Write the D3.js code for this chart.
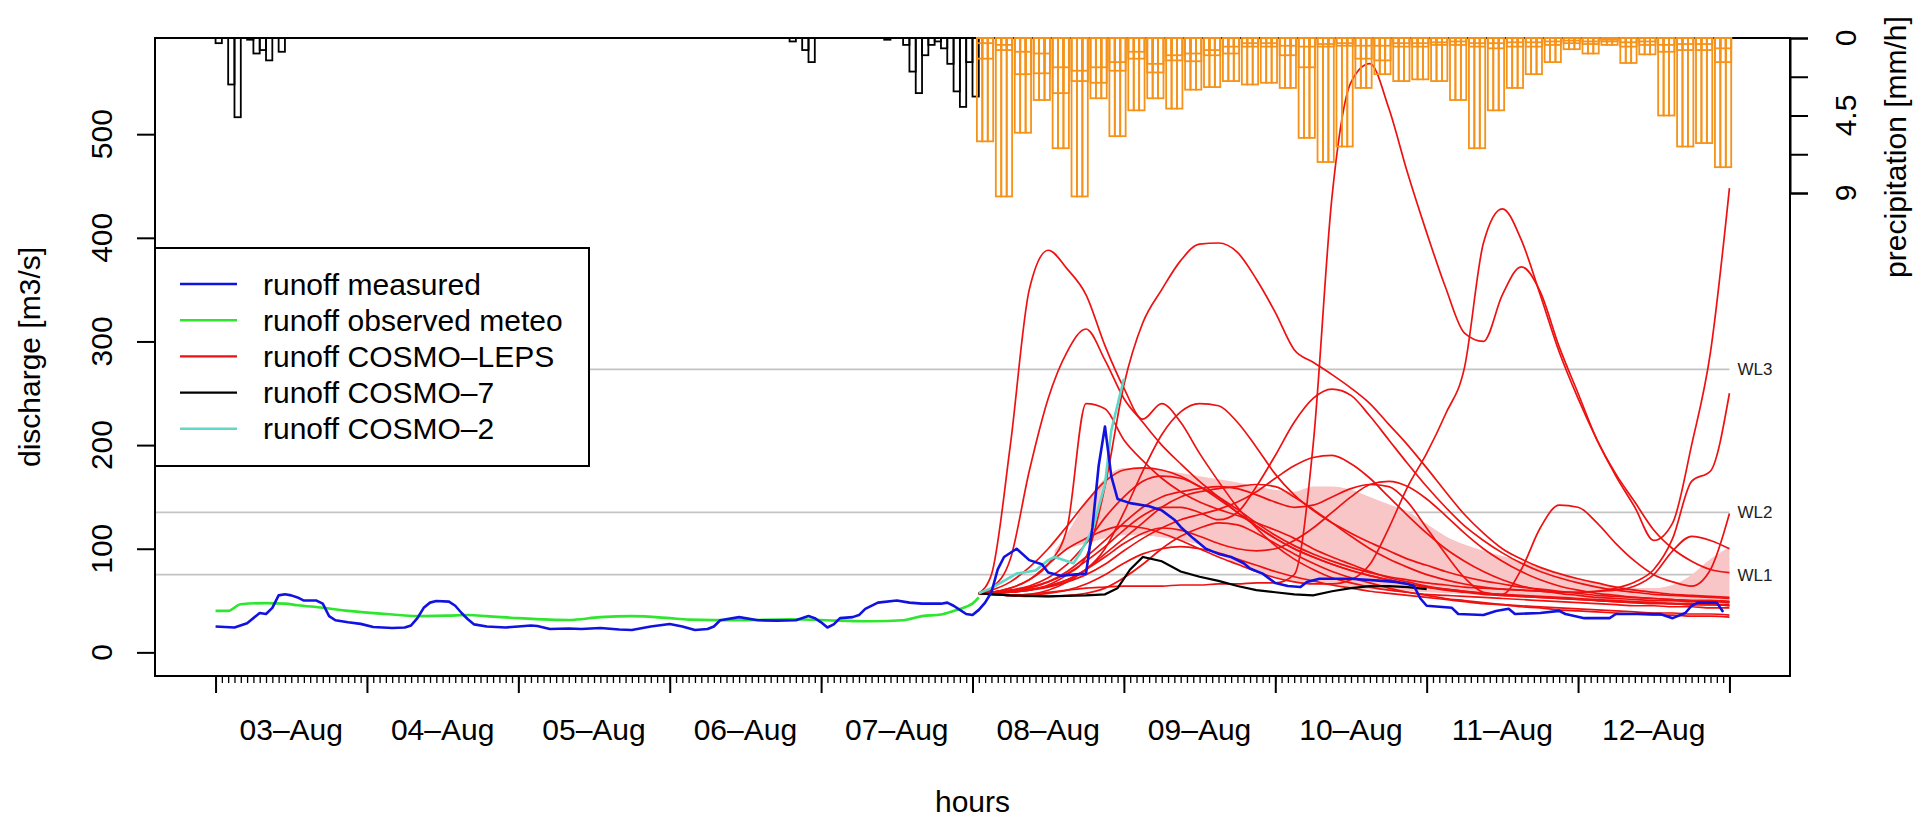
<!DOCTYPE html>
<html>
<head>
<meta charset="utf-8">
<script src="https://cdn.jsdelivr.net/npm/d3@7"></script>
<style>
  body { margin: 0; background: #fff; }
  svg { display: block; font-family: "Liberation Sans", Arial, sans-serif; }
</style>
</head>
<body>
<div id="chart"></div>
<script>
// ---- data (hours counted from 03-Aug 00:00) ----
var dayLabels = ["03\u2013Aug", "04\u2013Aug", "05\u2013Aug", "06\u2013Aug", "07\u2013Aug",
  "08\u2013Aug", "09\u2013Aug", "10\u2013Aug", "11\u2013Aug", "12\u2013Aug"];
var yTicks = [0, 100, 200, 300, 400, 500];
var precipTicks = [0, 2.25, 4.5, 6.75, 9];
var precipLabels = ["0", "", "4.5", "", "9"];

var warnLevels = [75, 135, 273];
var warnNames = ["WL1", "WL2", "WL3"];

// observed precipitation (black bars)
var obsPrecipHours = [0, 2, 3, 5, 6, 7, 8, 10, 91, 93, 94, 106, 109, 110, 111, 112, 113, 114, 115, 116, 117, 118, 119, 120];
var obsPrecipValues = [0.3, 2.7, 4.6, 0.1, 0.9, 0.7, 1.3, 0.8, 0.2, 0.7, 1.4, 0.1, 0.4, 1.95, 3.2, 1.0, 0.4, 0.2, 0.6, 1.5, 3.1, 4.0, 1.4, 3.4];

// forecast precipitation, 3-hour blocks from 08-Aug (orange bars, three member levels)
var precipMax = [6.0, 9.2, 5.5, 3.6, 6.4, 9.2, 3.5, 5.7, 4.2, 3.5, 4.1, 3.0, 2.85, 2.5, 2.7, 2.6, 2.9, 5.8, 7.2, 6.3,
  2.9, 2.1, 2.5, 2.4, 2.5, 3.6, 6.4, 4.2, 2.9, 2.1, 1.4, 0.65, 0.9, 0.4, 1.45, 0.95, 4.5, 6.3, 6.1, 7.5];
var precipMid = [1.2, 0.7, 2.1, 2.05, 3.2, 2.5, 2.6, 1.9, 1.2, 2.0, 1.3, 1.35, 1.0, 0.9, 0.5, 0.5, 1.0, 1.7, 0.5, 0.45,
  1.2, 1.3, 0.5, 0.5, 0.4, 0.4, 0.5, 0.6, 0.5, 0.5, 0.4, 0.3, 0.35, 0.2, 0.5, 0.4, 0.8, 0.7, 0.7, 1.4];
var precipLow = [0.3, 0.4, 0.8, 0.9, 1.7, 1.9, 1.7, 1.4, 0.8, 1.5, 1.0, 0.9, 0.7, 0.5, 0.3, 0.3, 0.45, 0.5, 0.35, 0.3,
  0.45, 0.45, 0.3, 0.3, 0.25, 0.2, 0.3, 0.3, 0.25, 0.25, 0.2, 0.15, 0.2, 0.1, 0.25, 0.2, 0.4, 0.35, 0.35, 0.6];

// runoff measured
var measuredHours = [0, 3, 5, 7, 8, 9, 10, 11, 12, 13, 14, 16, 17, 18, 19, 21, 23, 25, 28, 30, 31, 32, 33, 34, 35, 37, 38, 39, 40, 41,
  43, 46, 48, 50, 51, 53, 56, 58, 61, 64, 66, 69, 72, 74, 76, 78, 79, 80, 83, 86, 89, 92, 94, 95, 96, 97, 98, 99, 101, 102,
  103, 105, 108, 110, 112, 115, 116, 117, 118, 119, 120, 121, 122, 123, 124, 125, 127, 129, 131, 132, 134, 136, 138, 139, 140, 141, 142, 143,
  145, 148, 150, 152, 153, 155, 157, 159, 161, 163, 164, 166, 168, 170, 172, 173, 175, 180, 185, 187, 189, 190, 191, 192,
  196, 197, 201, 203, 205, 206, 210, 213, 214, 217, 221, 222, 229, 231, 233, 234, 235, 238, 239];
var measuredValues = [25, 24, 28, 38, 37, 43, 55, 56, 55, 53, 50, 50, 47, 35, 31, 29, 27.5, 24.5, 23.5, 24, 26, 33, 43, 48, 49.5, 49, 45, 38, 32, 27,
  25, 24, 25, 26, 25.5, 22.5, 23, 22.5, 23.5, 22, 21.6, 25, 27.4, 25, 21.6, 22.5, 25, 31, 34, 31, 30.6, 31, 35, 33, 29, 24, 27, 33, 34, 36,
  42, 48, 50, 48, 47, 47, 48, 45, 41, 37, 36, 41, 48, 58, 80, 92, 100, 89, 85, 77, 74, 75, 76, 120, 180, 218, 170, 148,
  144, 141, 137, 128, 121, 110, 100, 95, 92, 86, 81, 76, 67, 64, 63, 68, 71, 71, 69, 68, 66, 64, 52, 45,
  43, 37, 36, 40, 42, 37, 38, 40, 37, 33, 33, 37, 37, 33, 38, 45, 48, 48, 39];

// runoff observed meteo
var meteoHours = [0, 2, 4, 8, 11, 13, 17, 21, 27, 32, 37, 40, 43, 48, 53, 56, 61, 66, 72, 75, 83, 91, 99, 104, 109, 112, 115, 117, 119, 120, 121];
var meteoValues = [40, 40, 46.5, 47.5, 47, 45.5, 43, 40, 37, 35, 35.5, 36, 35, 33, 31.6, 31.3, 34, 35, 33, 31.6, 31, 32, 30.6, 30, 31, 35, 36.5, 40, 44, 47, 53];

// forecast hours for COSMO-LEPS members
var forecastHours = [121, 123, 126, 129, 132, 135, 138, 141, 144, 147, 150, 153, 156, 159, 162, 165, 168, 171, 174, 177,
  180, 183, 186, 189, 192, 195, 198, 201, 204, 207, 210, 213, 216, 219, 222, 225, 228, 231, 234, 237, 240];

var leps01 = [57, 75, 200, 350, 388, 370, 345, 296, 255, 225, 240, 222, 192, 165, 140, 120, 103, 90, 80, 72,
  67, 63, 60, 58, 56, 55, 54, 53, 52, 51, 50, 49, 48, 47, 46, 45, 45, 44, 44, 43, 43];
var leps02 = [57, 62, 90, 175, 245, 290, 312, 282, 245, 222, 200, 182, 165, 150, 135, 122, 110, 100, 92, 85,
  79, 74, 70, 66, 63, 61, 59, 57, 56, 55, 54, 53, 52, 51, 50, 49, 48, 47, 46, 46, 45];
var leps03 = [57, 57, 58, 60, 65, 75, 92, 160, 258, 318, 350, 378, 394, 395, 386, 360, 328, 292, 280, 268,
  255, 240, 220, 200, 178, 155, 133, 115, 100, 90, 82, 76, 71, 67, 63, 60, 58, 56, 55, 54, 53];
var leps04 = [57, 56, 55, 56, 58, 60, 62, 63, 64, 64, 64, 65, 65, 66, 66, 67, 67, 75, 200, 440,
  550, 568, 525, 462, 405, 352, 308, 300, 345, 372, 348, 295, 250, 205, 172, 145, 118, 100, 88, 80, 77];
var leps05 = [57, 58, 62, 70, 85, 100, 110, 118, 122, 120, 115, 108, 100, 92, 85, 78, 72, 68, 66, 66,
  70, 85, 120, 160, 192, 230, 275, 395, 428, 398, 345, 290, 245, 205, 170, 140, 108, 125, 200, 290, 448];
var leps06 = [57, 58, 60, 63, 68, 76, 88, 102, 118, 132, 140, 140, 135, 128, 135, 160, 190, 222, 245, 254,
  248, 228, 205, 182, 160, 140, 122, 108, 96, 86, 78, 72, 67, 63, 60, 58, 56, 55, 54, 53, 52];
var leps07 = [57, 58, 59, 61, 64, 70, 80, 100, 135, 175, 210, 232, 240, 238, 222, 198, 172, 152, 137, 125,
  115, 106, 98, 90, 84, 78, 73, 69, 66, 63, 61, 59, 57, 55, 54, 53, 52, 51, 50, 50, 49];
var leps08 = [57, 60, 68, 82, 100, 122, 145, 165, 176, 178, 176, 170, 160, 148, 135, 122, 110, 100, 92, 85,
  79, 74, 70, 66, 63, 60, 58, 56, 55, 54, 53, 52, 51, 50, 49, 48, 47, 47, 46, 46, 45];
var leps09 = [57, 58, 62, 70, 85, 120, 240, 235, 205, 185, 168, 155, 145, 138, 132, 125, 118, 110, 100, 92,
  85, 78, 72, 68, 64, 61, 59, 57, 55, 54, 53, 52, 51, 50, 49, 48, 48, 47, 47, 46, 46];
var leps10 = [57, 57, 58, 60, 63, 68, 75, 85, 98, 110, 120, 128, 133, 138, 145, 155, 168, 180, 188, 190,
  182, 168, 150, 132, 115, 100, 88, 78, 70, 64, 60, 57, 55, 53, 52, 51, 50, 50, 49, 49, 48];
var leps11 = [57, 57, 59, 62, 68, 78, 92, 108, 125, 140, 150, 155, 158, 160, 158, 152, 145, 140, 142, 150,
  158, 162, 160, 145, 120, 95, 72, 58, 56, 80, 120, 142, 140, 125, 105, 88, 75, 68, 64, 80, 134];
var leps12 = [57, 58, 60, 64, 72, 85, 105, 130, 150, 165, 170, 168, 160, 150, 138, 125, 113, 103, 95, 88,
  82, 77, 73, 70, 67, 65, 63, 62, 61, 60, 59, 58, 58, 59, 62, 68, 80, 110, 165, 175, 250];
var leps13 = [57, 56, 55, 56, 60, 68, 80, 95, 110, 125, 140, 150, 155, 158, 160, 162, 160, 150, 138, 125,
  112, 100, 90, 82, 75, 70, 66, 63, 61, 60, 59, 58, 58, 59, 60, 64, 75, 98, 112, 108, 100];
var leps14 = [57, 57, 58, 60, 64, 70, 80, 92, 105, 115, 120, 118, 112, 105, 100, 98, 100, 108, 120, 135,
  150, 162, 165, 160, 148, 132, 115, 100, 88, 78, 70, 64, 60, 57, 55, 53, 52, 51, 50, 50, 49];
var leps15 = [57, 56, 55, 55, 57, 60, 66, 75, 86, 95, 100, 102, 100, 96, 90, 84, 78, 73, 69, 65,
  62, 59, 57, 55, 53, 51, 49, 47, 46, 45, 44, 43, 42, 41, 40, 39, 38, 38, 37, 37, 36];
var leps16 = [57, 56, 55, 54, 54, 55, 57, 62, 72, 85, 100, 112, 120, 125, 123, 115, 105, 95, 86, 78,
  72, 67, 62, 58, 55, 52, 50, 48, 46, 44, 43, 41, 40, 39, 38, 37, 36, 36, 35, 35, 34];
var lepsRuns = [leps01, leps02, leps03, leps04, leps05, leps06, leps07, leps08,
  leps09, leps10, leps11, leps12, leps13, leps14, leps15, leps16];

// shaded ensemble range
var bandHours = [133, 135, 138, 141, 144, 147, 150, 153, 156, 159, 162, 165, 168, 171, 174, 177, 180, 183, 186,
  189, 192, 195, 198, 201, 204, 207, 210, 213, 216, 219, 222, 225, 228, 231, 234, 237, 240];
var bandLow = [95, 100, 105, 110, 113, 113, 111, 108, 104, 95, 85, 77, 72, 68, 66, 64, 62, 61, 60,
  59, 58, 57, 56, 55, 54, 53, 52, 51, 50, 49, 48, 47, 47, 46, 46, 46, 46];
var bandHigh = [98, 115, 145, 168, 178, 178, 176, 173, 170, 167, 164, 160, 157, 155, 160, 160, 157, 150, 143,
  136, 124, 112, 104, 98, 93, 88, 82, 76, 71, 67, 64, 62, 62, 65, 75, 90, 102];

// COSMO-7 and COSMO-2
var cosmo7Hours = [121, 126, 132, 138, 141, 143, 145, 147, 150, 153, 156, 159, 162, 165, 168, 171, 174, 177, 180, 183, 186, 189, 192];
var cosmo7Values = [57, 55, 54, 55, 56, 62, 80, 92, 88, 78, 73, 69, 64, 60, 58, 56, 55, 59, 62, 64, 64, 63, 61];
var cosmo2Hours = [121, 123, 127, 130, 132, 133, 136, 137, 139, 141, 142, 144];
var cosmo2Values = [57, 62, 76, 79, 89, 92, 86, 95, 118, 162, 214, 264];

var legendNames = ["runoff measured", "runoff observed meteo", "runoff COSMO\u2013LEPS", "runoff COSMO\u20137", "runoff COSMO\u20132"];
var legendColors = ["#1212e0", "#2ee62e", "#ee1111", "#000000", "#5fd8c8"];

// ---- layout ----
var svgWidth = 1926;
var svgHeight = 818;
var box = { left: 155, right: 1790, top: 38, bottom: 676 };
var precipStartHour = 120.7;

var svg = d3.select("#chart")
  .append("svg")
  .attr("width", svgWidth)
  .attr("height", svgHeight);

var xScale = d3.scaleLinear().domain([-9.6, 249.6]).range([box.left, box.right]);
var yScale = d3.scaleLinear().domain([-22.8, 592.8]).range([box.bottom, box.top]);
var pScale = d3.scaleLinear().domain([0, 9]).range([box.top, 193]);

function zip(xs, ys) {
  return xs.map((h, i) => [h, ys[i]]);
}

// warning levels
var wl = svg.append("g");
warnLevels.forEach(function(v, i) {
  wl.append("line")
    .attr("x1", box.left).attr("x2", xScale(240))
    .attr("y1", yScale(v)).attr("y2", yScale(v))
    .attr("stroke", "#c4c4c4").attr("stroke-width", 1.8);
  wl.append("text")
    .attr("x", xScale(240) + 8)
    .attr("y", yScale(v))
    .attr("dy", "0.35em")
    .style("font-size", "17px")
    .attr("fill", "#222")
    .text(warnNames[i]);
});

// ensemble band
var area = d3.area()
  .x(d => xScale(d[0]))
  .y0(d => yScale(d[1]))
  .y1(d => yScale(d[2]))
  .curve(d3.curveMonotoneX);
svg.append("path")
  .datum(bandHours.map((h, i) => [h, bandLow[i], bandHigh[i]]))
  .attr("d", area)
  .attr("fill", "#f8c6c6");

var smoothLine = d3.line()
  .x(d => xScale(d[0]))
  .y(d => yScale(d[1]))
  .curve(d3.curveMonotoneX);
var plainLine = d3.line()
  .x(d => xScale(d[0]))
  .y(d => yScale(d[1]));

// COSMO-LEPS members
svg.append("g").selectAll("path")
  .data(lepsRuns)
  .enter()
  .append("path")
  .attr("d", d => smoothLine(zip(forecastHours, d)))
  .attr("fill", "none")
  .attr("stroke", legendColors[2])
  .attr("stroke-width", 1.7);

// COSMO-7
svg.append("path")
  .attr("d", plainLine(zip(cosmo7Hours, cosmo7Values)))
  .attr("fill", "none").attr("stroke", legendColors[3]).attr("stroke-width", 2.2);

// observed meteo
svg.append("path")
  .attr("d", smoothLine(zip(meteoHours, meteoValues)))
  .attr("fill", "none").attr("stroke", legendColors[1]).attr("stroke-width", 2.6);

// COSMO-2
svg.append("path")
  .attr("d", plainLine(zip(cosmo2Hours, cosmo2Values)))
  .attr("fill", "none").attr("stroke", legendColors[4]).attr("stroke-width", 2.6);

// measured
svg.append("path")
  .attr("d", plainLine(zip(measuredHours, measuredValues)))
  .attr("fill", "none").attr("stroke", legendColors[0]).attr("stroke-width", 2.6)
  .attr("stroke-linejoin", "round");

// plot box
svg.append("rect")
  .attr("x", box.left).attr("y", box.top)
  .attr("width", box.right - box.left).attr("height", box.bottom - box.top)
  .attr("fill", "none").attr("stroke", "#000").attr("stroke-width", 2);

// observed precipitation bars
svg.append("g").selectAll("rect")
  .data(zip(obsPrecipHours, obsPrecipValues))
  .enter()
  .append("rect")
  .attr("x", d => xScale(d[0]))
  .attr("y", pScale(0))
  .attr("width", xScale(1) - xScale(0))
  .attr("height", d => pScale(d[1]) - pScale(0))
  .attr("fill", "none")
  .attr("stroke", "#000")
  .attr("stroke-width", 1.8);

// forecast precipitation bars: three hourly bars per block, one outline per level
var barW = 0.86;
var precipBars = [];
[precipMax, precipMid, precipLow].forEach(function(level) {
  level.forEach(function(v, k) {
    for (var j = 0; j < 3; j++) {
      precipBars.push({ h: precipStartHour + 3 * k + j * barW, v: v });
    }
  });
});
svg.append("g").selectAll("rect")
  .data(precipBars)
  .enter()
  .append("rect")
  .attr("x", d => xScale(d.h))
  .attr("y", pScale(0))
  .attr("width", xScale(barW) - xScale(0))
  .attr("height", d => pScale(d.v) - pScale(0))
  .attr("fill", "none")
  .attr("stroke", "#f5921a")
  .attr("stroke-width", 1.8);

// ---- axes ----
var leftAxis = d3.axisLeft(yScale).tickValues(yTicks).tickSize(18).tickFormat("");
var gLeft = svg.append("g").attr("transform", `translate(${box.left},0)`).call(leftAxis);
gLeft.select(".domain").remove();
gLeft.selectAll("line").attr("stroke-width", 2);
yTicks.forEach(function(t) {
  svg.append("text")
    .attr("transform", `translate(112,${yScale(t)}) rotate(-90)`)
    .attr("text-anchor", "middle")
    .style("font-size", "30px")
    .text(t);
});

var rightAxis = d3.axisRight(pScale).tickValues(precipTicks).tickSize(18).tickFormat("");
var gRight = svg.append("g").attr("transform", `translate(${box.right},0)`).call(rightAxis);
gRight.select(".domain").attr("stroke-width", 2);
gRight.selectAll("line").attr("stroke-width", 2);
precipTicks.forEach(function(t, i) {
  svg.append("text")
    .attr("transform", `translate(1856,${pScale(t)}) rotate(-90)`)
    .attr("text-anchor", "middle")
    .style("font-size", "30px")
    .text(precipLabels[i]);
});

var minorAxis = d3.axisBottom(xScale).tickValues(d3.range(0, 241, 1)).tickSize(7).tickFormat("");
var gMinor = svg.append("g").attr("transform", `translate(0,${box.bottom})`).call(minorAxis);
gMinor.select(".domain").remove();
gMinor.selectAll("line").attr("stroke-width", 1.3);

var majorAxis = d3.axisBottom(xScale).tickValues(d3.range(0, 241, 24)).tickSize(17).tickFormat("");
var gMajor = svg.append("g").attr("transform", `translate(0,${box.bottom})`).call(majorAxis);
gMajor.select(".domain").remove();
gMajor.selectAll("line").attr("stroke-width", 2);

dayLabels.forEach(function(lbl, d) {
  svg.append("text")
    .attr("x", xScale(12 + 24 * d))
    .attr("y", 740)
    .attr("text-anchor", "middle")
    .style("font-size", "30px")
    .text(lbl);
});

// axis titles
svg.append("text")
  .attr("x", (box.left + box.right) / 2)
  .attr("y", 812)
  .attr("text-anchor", "middle")
  .style("font-size", "30px")
  .text("hours");

svg.append("text")
  .attr("transform", `translate(40,${(box.top + box.bottom) / 2}) rotate(-90)`)
  .attr("text-anchor", "middle")
  .style("font-size", "30px")
  .text("discharge [m3/s]");

svg.append("text")
  .attr("transform", "translate(1906,147) rotate(-90)")
  .attr("text-anchor", "middle")
  .style("font-size", "30px")
  .text("precipitation [mm/h]");

// ---- legend ----
var legend = svg.append("g");
legend.append("rect")
  .attr("x", box.left).attr("y", 248)
  .attr("width", 434).attr("height", 218)
  .attr("fill", "#fff").attr("stroke", "#000").attr("stroke-width", 2);
legendNames.forEach(function(name, i) {
  var ly = 284 + i * 36.2;
  legend.append("line")
    .attr("x1", 180).attr("x2", 237)
    .attr("y1", ly).attr("y2", ly)
    .attr("stroke", legendColors[i]).attr("stroke-width", 2.4);
  legend.append("text")
    .attr("x", 263).attr("y", ly)
    .attr("dy", "0.35em")
    .style("font-size", "30px")
    .text(name);
});
</script>
</body>
</html>
